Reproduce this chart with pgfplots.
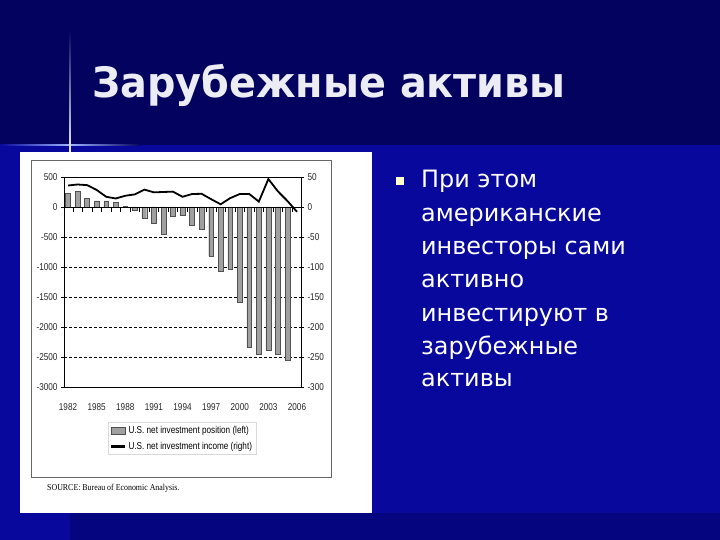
\documentclass[border=0pt]{standalone}
\usepackage{pgfplots}
\pgfplotsset{compat=1.18}
\usepackage{fontspec}
\setmainfont{DejaVu Sans}
\newfontfamily\narrow[FakeStretch=0.82]{Liberation Sans}
\newfontfamily\srcfont[FakeStretch=0.88]{Liberation Serif}
\newfontfamily\titlefont[FakeStretch=0.95]{DejaVu Sans}
\definecolor{topbg}{HTML}{03035F}
\definecolor{lowbg}{HTML}{08089C}
\definecolor{botbg}{HTML}{050580}
\definecolor{glow}{HTML}{9FB4FF}
\definecolor{titlecol}{HTML}{ECECF4}
\definecolor{bulletcol}{HTML}{FFFFCC}
\definecolor{barfill}{HTML}{A0A0A0}
\definecolor{baredge}{HTML}{505050}
\begin{document}
\begin{tikzpicture}[x=1bp,y=1bp]
\useasboundingbox (0,0) rectangle (720,540);
\fill[lowbg] (0,0) rectangle (720,395);
\fill[topbg] (0,395) rectangle (720,540);
\fill[botbg] (70,0) rectangle (720,27);
% decorative cross
\shade[left color=lowbg, right color=glow] (0,394.2) rectangle (70,395.8);
\shade[left color=glow, right color=topbg] (70,394.2) rectangle (140,395.8);
\shade[bottom color=white!85!glow, top color=topbg] (69.5,385) rectangle (70.5,510);
% title
\node[anchor=base west, inner sep=0, text=titlecol, font=\titlefont\bfseries\fontsize{42}{46}\selectfont] at (92,442) {Зарубежные активы};
% chart panel
\fill[white] (20,27) rectangle (372,388);
\draw[black!60, line width=0.8] (31,63) rectangle (331,380);
\node[anchor=base west, inner sep=0, font=\srcfont\fontsize{9}{10}\selectfont] at (47,49) {SOURCE: Bureau of Economic Analysis.};
\begin{axis}[
  at={(64bp,153bp)}, anchor=south west, width=237bp, height=210bp, scale only axis,
  xmin=1981.58, xmax=2006.42, ymin=-3000, ymax=500,
  ytick={-3000,-2500,-2000,-1500,-1000,-500,0,500},
  yticklabels={-3000,-2500,-2000,-1500,-1000,-500,0,500},
  ytick pos=left, tick align=outside, major tick length=3bp,
  xtick={1982,1985,1988,1991,1994,1997,2000,2003,2006},
  xticklabels={1982,1985,1988,1991,1994,1997,2000,2003,2006},
  xtick style={draw=none},
  xticklabel style={yshift=-10bp},
  ymajorgrids, major grid style={black, dash pattern=on 3bp off 2bp, line width=0.5bp},
  axis line style={black, line width=0.6bp},
  every tick/.style={black, line width=0.6bp},
  tick label style={font=\narrow\fontsize{10}{11}\selectfont, text=black!85},
  legend style={at={(0.498,-0.167)}, anchor=north, draw=black!15, fill=white,
    font=\narrow\fontsize{10}{11}\selectfont, row sep=3bp, inner sep=2bp,
    /tikz/every even column/.style={column sep=1bp}},
  legend cell align=left,
]
\addplot[ybar, bar width=4.8bp, fill=barfill, draw=baredge, line width=0.4bp,
  legend image code/.code={\draw[fill=barfill, draw=baredge] (0bp,-3.5bp) rectangle (14bp,3.5bp);}]
  coordinates {
  (1982,230) (1983,260) (1984,140) (1985,100) (1986,100) (1987,72) (1988,10)
  (1989,-50) (1990,-180) (1991,-270) (1992,-450) (1993,-160) (1994,-140)
  (1995,-310) (1996,-370) (1997,-820) (1998,-1070) (1999,-1040) (2000,-1580)
  (2001,-2340) (2002,-2450) (2003,-2380) (2004,-2450) (2005,-2550)
  };
\addlegendentry{U.S. net investment position (left)}
\addlegendimage{legend image code/.code={\draw[black, line width=2.5bp] (0bp,0bp) -- (14bp,0bp);}}
\addlegendentry{U.S. net investment income (right)}
\draw[black, line width=0.6bp] (axis cs:1981.58,0) -- (axis cs:2006.42,0);
\pgfplotsinvokeforeach{1982.5,1983.5,...,2005.5}{
  \draw[black, line width=0.5bp] (axis cs:#1,0) -- (axis cs:#1,-85);
}
\end{axis}
\begin{axis}[
  at={(64bp,153bp)}, anchor=south west, width=237bp, height=210bp, scale only axis,
  xmin=1981.58, xmax=2006.42, ymin=-300, ymax=50,
  axis x line=none, axis y line*=right,
  ytick={-300,-250,-200,-150,-100,-50,0,50},
  yticklabels={-300,-250,-200,-150,-100,-50,0,50},
  tick align=outside, major tick length=3bp,
  axis line style={black, line width=0.6bp},
  every tick/.style={black, line width=0.6bp},
  tick label style={font=\narrow\fontsize{10}{11}\selectfont, text=black!85},
]
\addplot[black, line width=1.8bp, mark=none] coordinates {
  (1982,35.8) (1983,37.5) (1984,36.4) (1985,28.4) (1986,17) (1987,14.2)
  (1988,18.7) (1989,21) (1990,29) (1991,24.4) (1992,25) (1993,25.6)
  (1994,17) (1995,21.6) (1996,22) (1997,13) (1998,4.5) (1999,14.8)
  (2000,21.6) (2001,21.6) (2002,9) (2003,46.6) (2004,26) (2005,10) (2006,-8)
  };
\end{axis}
% bullet text
\fill[bulletcol] (396,355) rectangle (404,363);
\begin{scope}[every node/.style={anchor=base west, inner sep=0, text=white, font=\fontsize{24}{28}\selectfont}]
\node at (421,352) {При этом};
\node at (421,318) {американские};
\node at (421,285) {инвесторы сами};
\node at (421,252) {активно};
\node at (421,218) {инвестируют в};
\node at (421,185) {зарубежные};
\node at (421,153) {активы};
\end{scope}
\end{tikzpicture}
\end{document}
